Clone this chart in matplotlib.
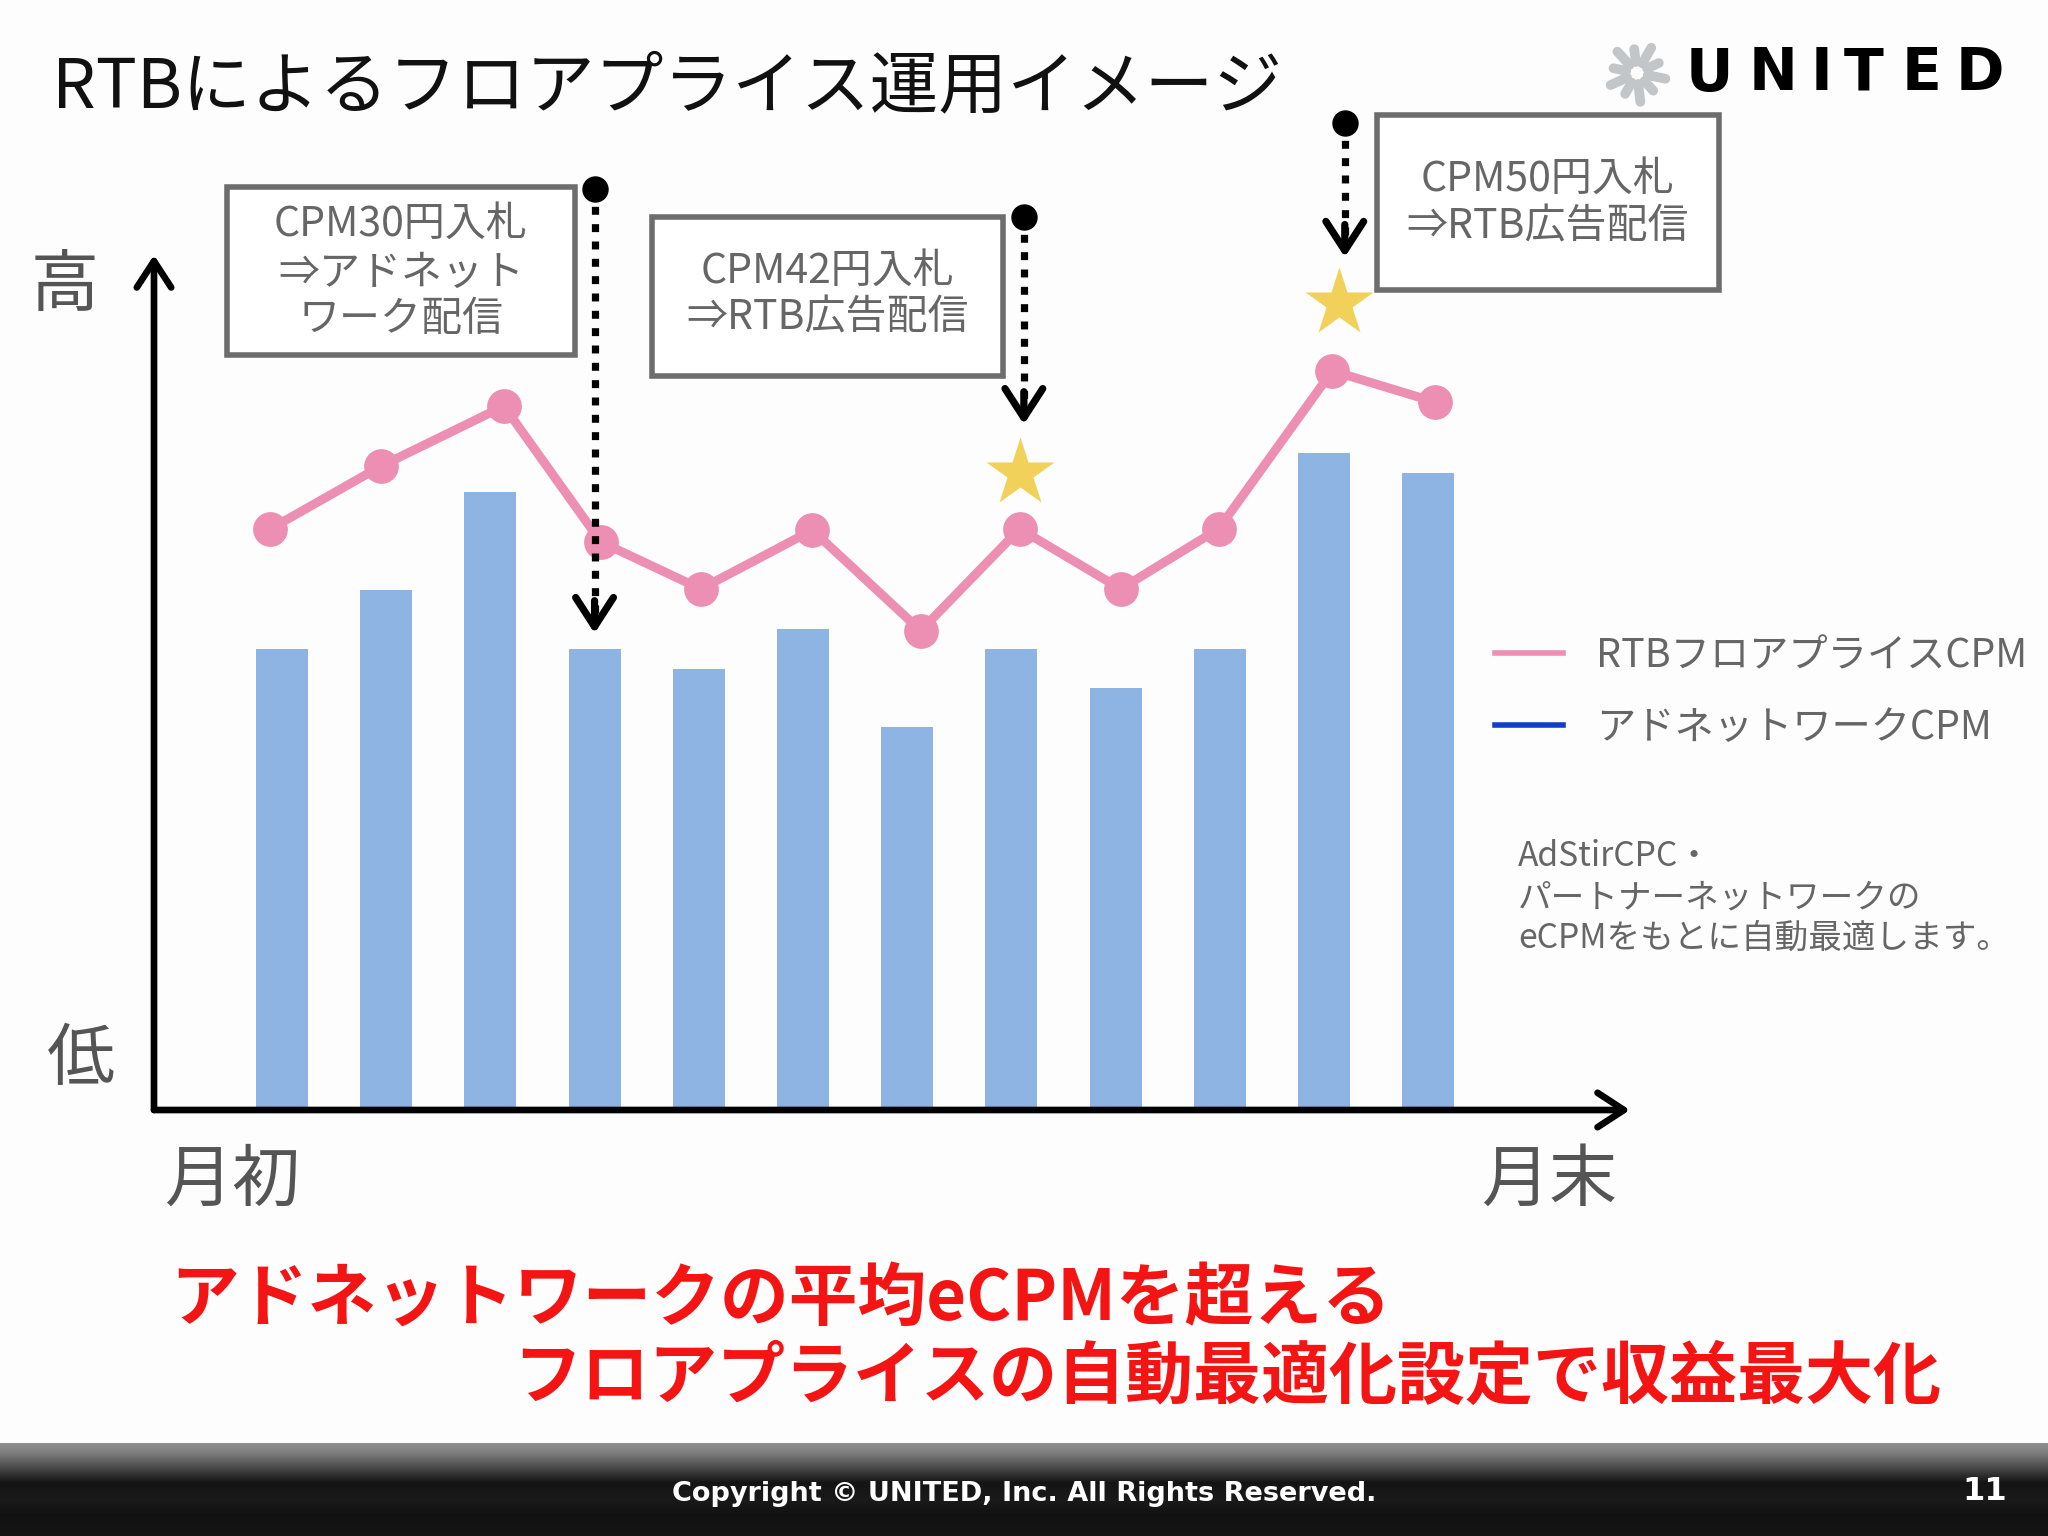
import numpy as np
import matplotlib
matplotlib.use('Agg')
import matplotlib.pyplot as plt
from matplotlib.patches import Rectangle

plt.rcParams['font.family'] = ['Noto Sans CJK JP', 'DejaVu Sans']

# ---------------- data ----------------
ad_network_cpm = [35.3, 39.8, 47.3, 35.3, 33.8, 36.8, 29.3, 35.3, 32.3, 35.3, 50.3, 48.8]
rtb_floor_x = [-0.11, 0.95, 2.13, 3.06, 4.02, 5.09, 6.13, 7.08, 8.05, 8.99, 10.08, 11.07]
rtb_floor_cpm = [44.5, 49.3, 53.9, 43.5, 39.9, 44.4, 36.7, 44.5, 39.9, 44.5, 56.6, 54.2]
star_x = [7.08, 10.14]
star_y = [48.8, 61.8]
bid_arrow_x = [3.0, 7.12, 10.2]
bid_arrow_top = [70.5, 68.4, 75.6]
bid_arrow_tip = [36.5, 52.5, 65.3]
box_lines = [["CPM30円入札", "⇒アドネット", "ワーク配信"],
             ["CPM42円入札", "⇒RTB広告配信"],
             ["CPM50円入札", "⇒RTB広告配信"]]
legend_labels = ["RTBフロアプライスCPM", "アドネットワークCPM"]
note_lines = ["AdStirCPC・", "パートナーネットワークの", "eCPMをもとに自動最適します。"]
title = "RTBによるフロアプライス運用イメージ"
headline = ["アドネットワークの平均eCPMを超える", "フロアプライスの自動最適化設定で収益最大化"]

PINK = '#ec8fb3'
BAR = '#8eb4e3'
BLUE = '#0f3fc4'
GRAY_T = '#666666'

fig = plt.figure(figsize=(20.48, 15.36), dpi=100)
fig.patch.set_facecolor('#fdfdfd')

# ---------------- data axes ----------------
ax = fig.add_axes([154 / 2048, (1536 - 1110) / 1536, (1630 - 154) / 2048, (1110 - 255) / 1536], zorder=2)
ax.patch.set_alpha(0)
x = np.arange(len(ad_network_cpm))
ax.bar(x, ad_network_cpm, width=0.5, color=BAR, zorder=2)
ax.plot(rtb_floor_x, rtb_floor_cpm, color=PINK, lw=6.5, marker='o', ms=24, zorder=3)
ax.plot(star_x, star_y, ls='none', marker='*', ms=52, color='#f2d15b', mec='none', zorder=4, clip_on=False)
ax.set_xlim(-1.228, 12.937)
ax.set_ylim(0, 65.47)
for s in ax.spines.values():
    s.set_visible(False)
ax.set_xticks([])
ax.set_yticks([])

axis_arrow = dict(arrowstyle='->,head_length=0.95,head_width=0.62', lw=4.8, color='black',
                  mutation_scale=20, shrinkA=0, shrinkB=0)
ax.annotate('', xy=(0, 1), xytext=(0, 0), xycoords='axes fraction', textcoords='axes fraction',
            arrowprops=axis_arrow, annotation_clip=False)
ax.annotate('', xy=(1, 0), xytext=(0, 0), xycoords='axes fraction', textcoords='axes fraction',
            arrowprops=axis_arrow, annotation_clip=False)

for bx, top, tip in zip(bid_arrow_x, bid_arrow_top, bid_arrow_tip):
    ax.plot([bx, bx], [top, tip + 0.6], color='black', lw=5.2, ls=(0, (1.1, 1.3)),
            dash_capstyle='butt', clip_on=False, zorder=6)
    ax.plot([bx], [top], marker='o', ms=18, color='black', clip_on=False, zorder=6)
    ax.annotate('', xy=(bx, tip), xytext=(bx, tip + 2.5),
                arrowprops=dict(arrowstyle='->,head_length=1.05,head_width=0.68', lw=5.2,
                                color='black', mutation_scale=20, shrinkA=0, shrinkB=0),
                annotation_clip=False, zorder=6)

# ---------------- overlay axes (pixel coords) ----------------
ov = fig.add_axes([0, 0, 1, 1], zorder=3)
ov.set_xlim(0, 2048)
ov.set_ylim(1536, 0)
ov.axis('off')
ov.patch.set_alpha(0)

ov.text(52, 88, title, fontsize=49.5, color='#111111', ha='left', va='center')

# logo
cx, cy = 1637, 73
for i, ang in enumerate(np.linspace(0, 2 * np.pi, 10, endpoint=False)):
    r0, r1 = 11, 29 if i % 2 == 0 else 24
    ov.plot([cx + r0 * np.cos(ang + 0.2), cx + r1 * np.cos(ang + 0.2)],
            [cy + r0 * np.sin(ang + 0.2), cy + r1 * np.sin(ang + 0.2)],
            color='#c3c6c9', lw=7, solid_capstyle='round')
for ch, lx in zip("UNITED", [1709, 1773, 1821, 1864, 1922, 1980]):
    ov.text(lx, 74, ch, fontsize=42, fontweight='bold', color='black', ha='center', va='center',
            family='DejaVu Sans')

# boxes
boxes = [(227, 187, 575, 355), (652, 217, 1003, 376), (1377, 115, 1719, 290)]
line_pos = [[224, 273, 320], [271, 318], [179, 227]]
for (x0, y0, x1, y1), lines, ys in zip(boxes, box_lines, line_pos):
    ov.add_patch(Rectangle((x0, y0), x1 - x0, y1 - y0, facecolor='white', edgecolor='#6d6d6d', lw=4))
    for t, yy in zip(lines, ys):
        ov.text((x0 + x1) / 2, yy, t, fontsize=29.5, color=GRAY_T, ha='center', va='center')

# axis words
ov.text(65, 287, "高", fontsize=49, color='#555555', ha='center', va='center')
ov.text(81, 1061, "低", fontsize=49, color='#555555', ha='center', va='center')
ov.text(232, 1182, "月初", fontsize=49, color='#555555', ha='center', va='center')
ov.text(1549, 1182, "月末", fontsize=49, color='#555555', ha='center', va='center')

# legend
for lab, col, yy in zip(legend_labels, [PINK, BLUE], [653, 725]):
    ov.plot([1495, 1563], [yy, yy], color=col, lw=4)
    ov.text(1596, yy + 3, lab, fontsize=28.3, color=GRAY_T, ha='left', va='center')

for t, yy in zip(note_lines, [857, 898, 938]):
    ov.text(1518, yy, t, fontsize=24.2, color=GRAY_T, ha='left', va='center')

# headline
ov.text(170, 1300, headline[0], fontsize=49.5, fontweight='bold', color='#f41414', ha='left', va='center')
ov.text(513, 1378, headline[1], fontsize=49, fontweight='bold', color='#f41414', ha='left', va='center')

# footer
prof_y = np.array([1443, 1452, 1462, 1472, 1482, 1500, 1515, 1536])
prof_v = np.array([0.56, 0.50, 0.36, 0.22, 0.08, 0.10, 0.07, 0.08])
rows = np.interp(np.arange(1443, 1536), prof_y, prof_v)
img = np.repeat(rows[:, None], 4, axis=1)
ov.imshow(img, cmap='gray', vmin=0, vmax=1, extent=(0, 2048, 1536, 1443), aspect='auto', zorder=1)
ov.set_xlim(0, 2048)
ov.set_ylim(1536, 0)
ov.text(1024, 1494, "Copyright © UNITED, Inc. All Rights Reserved.", fontsize=19.5, fontweight='bold',
        color='white', ha='center', va='center', family='DejaVu Sans', zorder=2)
ov.text(1985, 1492, "11", fontsize=23, fontweight='bold', color='white', ha='center', va='center',
        family='DejaVu Sans', zorder=2)

fig.savefig('out.png', dpi=100, facecolor=fig.get_facecolor())
